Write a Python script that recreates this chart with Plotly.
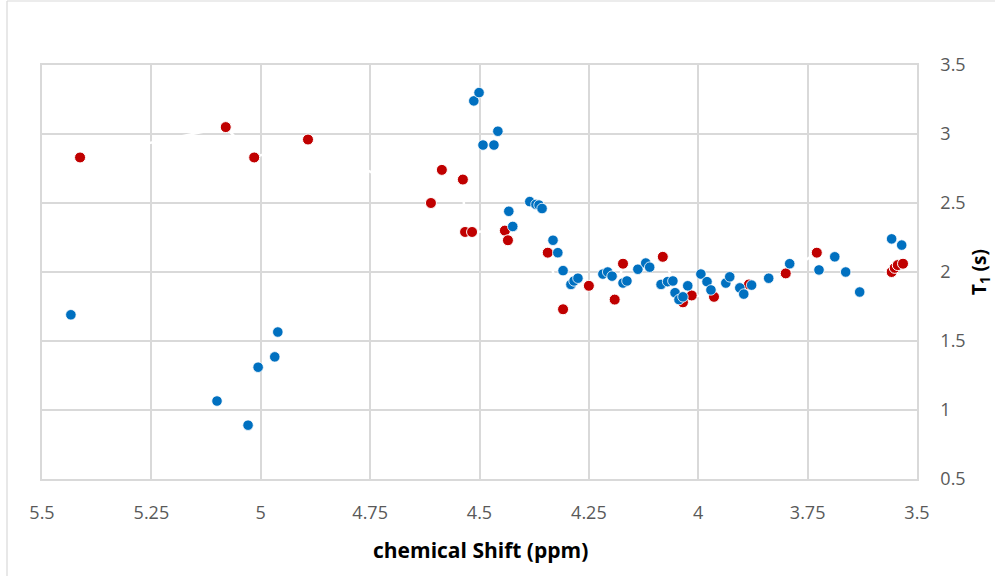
import plotly.graph_objects as go

# Red series: chemical shift (ppm) and T1 (s)
red_shift = [5.413, 5.080, 5.015, 4.892, 4.611, 4.586, 4.538, 4.533, 4.517, 4.442,
             4.435, 4.344, 4.309, 4.250, 4.191, 4.172, 4.081, 4.035, 4.015, 3.964,
             3.884, 3.800, 3.729, 3.558, 3.551, 3.544, 3.532]
red_t1 = [2.83, 3.05, 2.83, 2.96, 2.50, 2.74, 2.67, 2.29, 2.29, 2.30,
          2.23, 2.14, 1.73, 1.90, 1.80, 2.06, 2.11, 1.78, 1.83, 1.82,
          1.91, 1.99, 2.14, 2.00, 2.03, 2.05, 2.06]

# Blue series
blue_shift = [5.434, 5.100, 5.029, 5.006, 4.968, 4.961,
              4.513, 4.501, 4.492, 4.467, 4.458,
              4.433, 4.424, 4.385, 4.371, 4.364, 4.357, 4.332, 4.321, 4.309,
              4.291, 4.284, 4.275, 4.218, 4.207, 4.197, 4.172, 4.163, 4.138, 4.120,
              4.111, 4.085, 4.070, 4.058, 4.053, 4.044, 4.035, 4.024, 3.994, 3.980,
              3.971, 3.937, 3.928, 3.905, 3.896, 3.878, 3.839, 3.791, 3.724, 3.688,
              3.663, 3.631, 3.558, 3.535]
blue_t1 = [1.69, 1.065, 0.89, 1.31, 1.385, 1.565,
           3.24, 3.30, 2.92, 2.92, 3.02,
           2.44, 2.33, 2.51, 2.49, 2.485, 2.46, 2.23, 2.14, 2.01,
           1.91, 1.935, 1.955, 1.985, 2.00, 1.97, 1.92, 1.935, 2.02, 2.065,
           2.035, 1.91, 1.93, 1.935, 1.85, 1.80, 1.82, 1.90, 1.985, 1.93,
           1.87, 1.92, 1.965, 1.885, 1.84, 1.905, 1.955, 2.06, 2.015, 2.11,
           2.00, 1.855, 2.24, 2.195]

x_ticks = [5.5, 5.25, 5.0, 4.75, 4.5, 4.25, 4.0, 3.75, 3.5]
x_tick_text = ["5.5", "5.25", "5", "4.75", "4.5", "4.25", "4", "3.75", "3.5"]
y_ticks = [0.5, 1.0, 1.5, 2.0, 2.5, 3.0, 3.5]
y_tick_text = ["0.5", "1", "1.5", "2", "2.5", "3", "3.5"]

FONT = "'Open Sans', Lato, sans-serif"
GRID = "#d9d9d9"

# plot-area geometry in pixels
L, R, T, B = 42, 917, 65, 479
W, H = 995, 583


def px_x(px):
    return (px - L) / (R - L)


def px_y(py):
    return (B - py) / (B - T)


fig = go.Figure()
fig.add_trace(go.Scatter(
    x=red_shift, y=red_t1, mode="lines+markers",
    line=dict(color="white", width=2.5),
    marker=dict(color="#c00000", size=11, line=dict(color="white", width=1)),
    showlegend=False,
))
fig.add_trace(go.Scatter(
    x=blue_shift, y=blue_t1, mode="markers",
    marker=dict(color="#0070c0", size=10.5, line=dict(color="white", width=0.8)),
    showlegend=False,
))

fig.update_layout(
    width=W, height=H,
    margin=dict(l=L, r=W - R, t=T, b=H - B),
    paper_bgcolor="white", plot_bgcolor="white",
    font=dict(family=FONT, color="#595959", size=18),
    xaxis=dict(
        range=[5.5, 3.5], tickvals=x_ticks, ticktext=x_tick_text,
        showgrid=True, gridcolor=GRID, gridwidth=1.5, zeroline=False,
        showline=True, linecolor=GRID, linewidth=1.5, mirror=True,
        ticks="", ticklabelstandoff=17, automargin=False,
    ),
    yaxis=dict(
        range=[0.5, 3.5], tickvals=y_ticks, ticktext=y_tick_text, side="right",
        showgrid=True, gridcolor=GRID, gridwidth=1.5, zeroline=False,
        showline=True, linecolor=GRID, linewidth=1.5, mirror=True,
        ticks="", ticklabelstandoff=18, automargin=False,
    ),
    annotations=[
        dict(text="<b>chemical Shift (ppm)</b>", xref="paper", yref="paper",
             x=px_x(480), y=px_y(550), xanchor="center", yanchor="middle",
             showarrow=False, font=dict(family=FONT, size=21, color="black")),
        dict(text="<b>T<sub>1</sub> (s)</b>", xref="paper", yref="paper",
             x=px_x(980), y=px_y(272), xanchor="center", yanchor="middle",
             textangle=-90, showarrow=False,
             font=dict(family=FONT, size=19, color="black")),
    ],
    shapes=[
        dict(type="line", xref="paper", yref="paper",
             x0=px_x(7), x1=px_x(7), y0=px_y(1), y1=px_y(576),
             line=dict(color=GRID, width=1.2)),
        dict(type="line", xref="paper", yref="paper",
             x0=px_x(7), x1=px_x(W), y0=px_y(1), y1=px_y(1),
             line=dict(color=GRID, width=1.2)),
    ],
)

fig.write_html("out.html")
